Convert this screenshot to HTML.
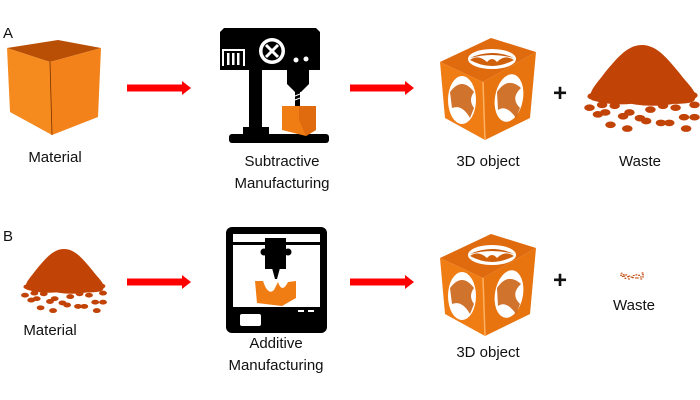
<!DOCTYPE html>
<html><head><meta charset="utf-8"><style>
body{margin:0;background:#fff;}
svg{display:block;}
text{font-family:"Liberation Sans",sans-serif;fill:#111;}
</style></head><body>
<svg width="700" height="400" viewBox="0 0 700 400" xmlns="http://www.w3.org/2000/svg">
<defs>
<g id="arrow">
<rect x="0" y="-3.5" width="56" height="7" fill="#ff0000"/>
<polygon points="55,-7 64,0 55,7" fill="#ff0000"/>
</g>
<g id="dots" fill="#c14305">
<ellipse cx="-47" cy="54" rx="5" ry="3.5"/><ellipse cx="-50" cy="66" rx="5" ry="3.5"/>
<ellipse cx="-38" cy="63" rx="5" ry="3.5"/><ellipse cx="-26" cy="64" rx="5" ry="3.5"/>
<ellipse cx="-42" cy="73" rx="5" ry="3.5"/><ellipse cx="-35" cy="71" rx="5" ry="3.5"/>
<ellipse cx="-18" cy="75" rx="5" ry="3.5"/><ellipse cx="-12" cy="71" rx="5" ry="3.5"/>
<ellipse cx="-2" cy="77" rx="5" ry="3.5"/><ellipse cx="4" cy="80" rx="5" ry="3.5"/>
<ellipse cx="-30" cy="84" rx="5" ry="3.5"/><ellipse cx="-14" cy="88" rx="5" ry="3.5"/>
<ellipse cx="8" cy="68" rx="5" ry="3.5"/><ellipse cx="18" cy="82" rx="5" ry="3.5"/>
<ellipse cx="26" cy="82" rx="5" ry="3.5"/><ellipse cx="32" cy="66" rx="5" ry="3.5"/>
<ellipse cx="40" cy="76" rx="5" ry="3.5"/><ellipse cx="50" cy="63" rx="5" ry="3.5"/>
<ellipse cx="48" cy="53" rx="5" ry="3.5"/><ellipse cx="50" cy="76" rx="5" ry="3.5"/>
<ellipse cx="42" cy="88" rx="5" ry="3.5"/><ellipse cx="20" cy="64" rx="5" ry="3.5"/>
</g>
<g id="pile">
<path d="M0,0 C-14,0 -24,14 -36,30 C-44,42 -52,50 -48,58 Q-30,64 -10,62 Q10,66 30,62 Q48,62 50,58 C54,50 44,42 36,30 C24,14 14,0 0,0Z" fill="#c14305"/>
<use href="#dots"/>
</g>
<g id="lattice">
<polygon points="440,62 491,38 536,52 483,82" fill="#e06a0e"/>
<polygon points="440,62 483,82 485,140 445,118" fill="#f07c14"/>
<polygon points="483,82 536,52 530,118 485,140" fill="#e8740f"/>
<ellipse cx="492" cy="59" rx="24" ry="10" fill="#fff"/>
<path d="M470,60 Q492,72 514,60 Q505,54 497,62 Q492,56 487,62 Q478,54 470,60Z" fill="#d0600a"/>
<path d="M470,58 Q492,48 514,58 Q492,52 470,58Z" fill="#c85a08"/>
<ellipse cx="462" cy="100" rx="14" ry="24" fill="#fff"/>
<path d="M450,92 Q462,76 474,92 Q468,100 474,108 L470,118 Q462,104 452,108 Z" fill="#c85a08" opacity="0.85"/>
<ellipse cx="509" cy="98" rx="14" ry="24" fill="#fff" transform="rotate(10 509 98)"/>
<path d="M497,92 Q508,76 521,88 Q510,98 520,108 L516,118 Q506,104 498,110 Z" fill="#c85a08" opacity="0.85"/>
<path d="M483,82 L485,140" stroke="#ffb060" stroke-width="1.5"/>
</g>
</defs>

<text x="3" y="38" font-size="15">A</text>
<text x="3" y="241" font-size="15">B</text>

<polygon points="7,48 58,40 101,48 50,62" fill="#b84f04"/>
<polygon points="7,48 50,62 52,135 10,112" fill="#f58a1e"/>
<polygon points="50,62 101,48 98,117 52,135" fill="#f3821a"/>
<line x1="50" y1="62" x2="52" y2="135" stroke="#7a3000" stroke-width="0.8"/>
<text x="55" y="162" font-size="15" text-anchor="middle">Material</text>

<use href="#arrow" x="127" y="88"/>
<use href="#arrow" x="350" y="88"/>
<use href="#arrow" x="127" y="282"/>
<use href="#arrow" x="350" y="282"/>

<path d="M224,28 L316,28 L320,32 L320,70 L220,70 L220,32 Z" fill="#000"/>
<circle cx="272" cy="51" r="13" fill="#fff"/>
<circle cx="272" cy="51" r="9.5" fill="#000"/>
<path d="M266,45 L278,57 M278,45 L266,57" stroke="#fff" stroke-width="3"/>
<rect x="222" y="49" width="23" height="17" fill="#fff"/>
<rect x="224" y="51" width="19" height="15" fill="#000"/>
<rect x="227" y="53" width="2.5" height="12" fill="#fff"/><rect x="232" y="53" width="2.5" height="12" fill="#fff"/><rect x="237" y="53" width="2.5" height="12" fill="#fff"/>
<circle cx="296" cy="60" r="2.5" fill="#fff"/><circle cx="306" cy="59" r="2.5" fill="#fff"/>
<rect x="249" y="70" width="13" height="58" fill="#000"/>
<rect x="243" y="127" width="26" height="8" fill="#000"/>
<rect x="229" y="134" width="100" height="9" rx="3" fill="#000"/>
<path d="M287,70 L309,70 L309,84 L301,92 L295,92 L287,84 Z" fill="#000"/>
<rect x="295" y="92" width="5" height="14" fill="#000"/>
<path d="M295,96 L300,94 M295,100 L300,98" stroke="#fff" stroke-width="1"/>
<polygon points="282,106 316,106 316,130 306,136 282,130" fill="#f07c14"/>
<polygon points="299,106 316,106 316,130 306,136 299,120" fill="#e06a0e"/>
<text x="282" y="166" font-size="15" text-anchor="middle">Subtractive</text>
<text x="282" y="188" font-size="15" text-anchor="middle">Manufacturing</text>

<use href="#lattice"/>
<text x="488" y="166" font-size="15" text-anchor="middle">3D object</text>
<text x="560" y="101" font-size="24" font-weight="bold" text-anchor="middle">+</text>
<use href="#pile" transform="translate(642,45) scale(1.05,0.95)"/>
<text x="640" y="166" font-size="15" text-anchor="middle">Waste</text>

<use href="#pile" transform="translate(64,249) scale(0.78,0.7)"/>
<text x="50" y="335" font-size="15" text-anchor="middle">Material</text>

<rect x="226" y="227" width="101" height="106" rx="6" fill="#000"/>
<rect x="233" y="245" width="87" height="62" fill="#fff"/>
<rect x="233" y="234" width="87" height="8" fill="#fff"/>
<rect x="265" y="238" width="21" height="31" fill="#000"/>
<circle cx="264" cy="252" r="3.5" fill="#000"/><circle cx="288" cy="252" r="3.5" fill="#000"/>
<polygon points="272,268 280,268 277,279 275,279" fill="#000"/>
<path d="M255,281 L263,281 Q268,296 274,290 L278,282 Q282,294 288,282 L296,281 L296,298 L282,306 L257,303 Z" fill="#f07c14"/>
<rect x="240" y="314" width="21" height="12" rx="2" fill="#fff"/>
<rect x="298" y="310" width="6" height="2" fill="#fff"/><rect x="308" y="310" width="6" height="2" fill="#fff"/>
<text x="276" y="348" font-size="15" text-anchor="middle">Additive</text>
<text x="276" y="370" font-size="15" text-anchor="middle">Manufacturing</text>

<use href="#lattice" transform="translate(0,196)"/>
<text x="488" y="357" font-size="15" text-anchor="middle">3D object</text>
<text x="560" y="288" font-size="24" font-weight="bold" text-anchor="middle">+</text>
<use href="#dots" transform="translate(632,264) scale(0.22,0.17)"/>
<text x="634" y="310" font-size="15" text-anchor="middle">Waste</text>
</svg>
</body></html>
